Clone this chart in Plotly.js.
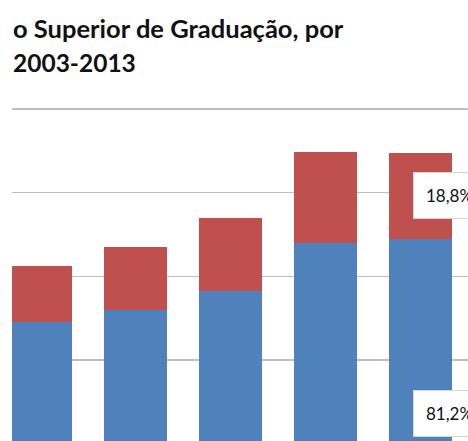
<!DOCTYPE html>
<html>
<head>
<meta charset="utf-8">
<script src="https://cdn.plot.ly/plotly-3.0.1.min.js"></script>
<style>html,body{margin:0;padding:0;background:#fff;overflow:hidden}#chart{width:468px;height:441px}</style>
</head>
<body>
<div id="chart"></div>
<script>
// Categories (x tick labels are cropped out of the reference)
var categories = ['2005', '2007', '2009', '2011', '2013'];
// Series values (arbitrary axis units; gridline = 1 unit)
var seriesBlue = [3.45, 3.60, 3.83, 4.40, 4.45];
var seriesRed  = [0.67, 0.75, 0.87, 1.09, 1.03];
// Title lines (left part of the title is cropped in the reference)
var titleLine1 = 'o Superior de Graduação, por';
var titleLine2 = '2003-2013';

function pct(part, total) {
  return (100 * part / total).toFixed(1).replace('.', ',') + '%';
}
var last = categories.length - 1;
var lastTotal = seriesBlue[last] + seriesRed[last];

var traces = [
  {type: 'bar', x: categories, y: seriesBlue, marker: {color: '#4F81BD'}, width: 0.66, hoverinfo: 'none'},
  {type: 'bar', x: categories, y: seriesRed, marker: {color: '#C0504D'}, width: 0.66, hoverinfo: 'none'}
];

var labelFont = {family: 'Lato, sans-serif', size: 17, color: '#111'};
var layout = {
  width: 468, height: 441,
  margin: {l: 12, r: 0, t: 90, b: 0, pad: 0},
  paper_bgcolor: '#fff', plot_bgcolor: '#fff',
  barmode: 'stack',
  showlegend: false,
  xaxis: {type: 'category', range: [-0.3, 4.5], showticklabels: false, showgrid: false, zeroline: false, showline: false, ticks: ''},
  yaxis: {range: [2.032, 6.227], dtick: 1, tick0: 0, showticklabels: false, showgrid: true, gridcolor: '#bdbdbd', gridwidth: 1.5, zeroline: false, showline: false, ticks: ''},
  annotations: [
    {xref: 'paper', yref: 'paper', x: 0, y: 1.177, xanchor: 'left', yanchor: 'middle', showarrow: false,
     text: titleLine1, font: {family: 'Lato, sans-serif', size: 25.5, color: '#111', weight: 'bold'}, borderpad: 0},
    {xref: 'paper', yref: 'paper', x: 0, y: 1.077, xanchor: 'left', yanchor: 'middle', showarrow: false,
     text: titleLine2, font: {family: 'Lato, sans-serif', size: 24.5, color: '#111', weight: 'bold'}, borderpad: 0},
    {xref: 'x', yref: 'y', x: 3.921, y: 4.966, xanchor: 'left', yanchor: 'middle', showarrow: false,
     text: pct(seriesRed[last], lastTotal), font: labelFont, align: 'left',
     bgcolor: '#fff', bordercolor: '#d4d4d4', borderwidth: 1, borderpad: 12, width: 52, height: 21},
    {xref: 'x', yref: 'y', x: 3.921, y: 2.366, xanchor: 'left', yanchor: 'middle', showarrow: false,
     text: pct(seriesBlue[last], lastTotal), font: labelFont, align: 'left',
     bgcolor: '#fff', bordercolor: '#d4d4d4', borderwidth: 1, borderpad: 12, width: 52, height: 21}
  ]
};

Plotly.newPlot('chart', traces, layout, {displayModeBar: false, staticPlot: true});
</script>
</body>
</html>
